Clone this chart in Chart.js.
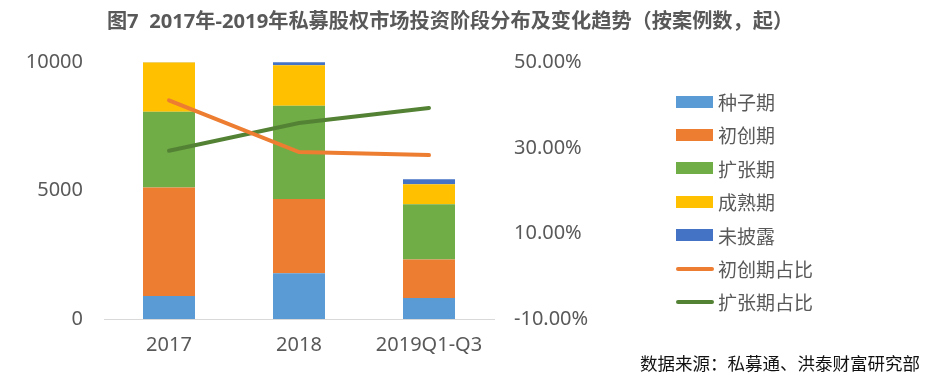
<!DOCTYPE html>
<html>
<head>
<meta charset="utf-8">
<script src="https://cdn.jsdelivr.net/npm/chart.js@4"></script>
<style>
    html, body { margin: 0; padding: 0; background: #fff; }
    #wrap { position: relative; width: 938px; height: 381px; }
    #grafica { display: block; }
    #fuente {
        position: absolute; left: 640px; top: 350px;
        font: 17.5px 'Noto Sans CJK SC', sans-serif; color: #111; white-space: nowrap;
    }
    #leyenda {
        position: absolute; left: 676px; top: 85px; margin: 0; padding: 0; list-style: none;
        font: 19px 'Noto Sans CJK SC', sans-serif; color: #595959;
    }
    #leyenda li { height: 33.4px; line-height: 33.4px; display: flex; align-items: center; white-space: nowrap; }
    #leyenda .caja { display: inline-block; width: 37px; height: 12px; margin-right: 5px; }
    #leyenda .linea { display: inline-block; width: 38px; height: 4px; border-radius: 2px; margin: 0 4px 0 0; }
</style>
</head>
<body>
<div id="wrap">
    <canvas id="grafica" width="938" height="381"></canvas>
    <ul id="leyenda"></ul>
    <div id="fuente">数据来源：私募通、洪泰财富研究部</div>
</div>
<script>
// Datos (número de casos)
const categorias = ['2017', '2018', '2019Q1-Q3'];
const semilla = [900, 1785, 820];        // 种子期
const inicial = [4220, 2890, 1495];      // 初创期
const expansion = [2955, 3635, 2150];    // 扩张期
const madurez = [1925, 1575, 780];       // 成熟期
const sinRevelar = [30, 145, 195];       // 未披露
// Proporciones (%)
const pctInicial = [41.1, 29.0, 28.3];   // 初创期占比
const pctExpansion = [29.3, 35.8, 39.3]; // 扩张期占比

const FUENTE = "'Noto Sans', 'Noto Sans CJK SC', sans-serif";
const GRIS = '#595959';

const barra = (label, data, color) => ({
    type: 'bar', label, data, backgroundColor: color, borderWidth: 0,
    yAxisID: 'y', order: 1, barPercentage: 0.4, categoryPercentage: 1
});
const linea = (label, data, color) => ({
    type: 'line', label, data, borderColor: color, backgroundColor: color,
    borderWidth: 4, borderCapStyle: 'round', pointRadius: 0, tension: 0,
    yAxisID: 'y1', order: 0
});

const ctx = document.getElementById('grafica').getContext('2d');
const grafica = new Chart(ctx, {
    data: {
        labels: categorias,
        datasets: [
            barra('种子期', semilla, '#5B9BD5'),
            barra('初创期', inicial, '#ED7D31'),
            barra('扩张期', expansion, '#70AD47'),
            barra('成熟期', madurez, '#FFC000'),
            barra('未披露', sinRevelar, '#4472C4'),
            linea('初创期占比', pctInicial, '#ED7D31'),
            linea('扩张期占比', pctExpansion, '#548235')
        ]
    },
    options: {
        responsive: false,
        animation: false,
        devicePixelRatio: 1,
        layout: { padding: { left: 20, right: 58, top: 0, bottom: 10 } },
        plugins: {
            title: {
                display: true,
                text: '图7  2017年-2019年私募股权市场投资阶段分布及变化趋势（按案例数，起）',
                color: GRIS,
                font: { family: FUENTE, size: 20.2, weight: 'bold' },
                padding: { top: 10, bottom: 28 }
            },
            legend: { display: false },
            tooltip: { enabled: false }
        },
        scales: {
            x: {
                stacked: true,
                grid: { display: false, drawTicks: false },
                border: { display: true, color: '#D9D9D9', width: 1 },
                ticks: { color: GRIS, font: { family: FUENTE, size: 20 }, padding: 14 }
            },
            y: {
                stacked: true,
                position: 'left',
                min: 0, max: 10000,
                ticks: {
                    stepSize: 5000, color: GRIS, font: { family: FUENTE, size: 20 }, padding: 21,
                    callback: v => String(v)
                },
                grid: { display: false, drawTicks: false },
                border: { display: false },
                afterFit: s => { s.width = 84; }
            },
            y1: {
                position: 'right',
                min: -10, max: 50,
                ticks: {
                    stepSize: 20, color: GRIS, font: { family: FUENTE, size: 20 }, padding: 20,
                    callback: v => v.toFixed(2) + '%'
                },
                grid: { display: false, drawTicks: false },
                border: { display: false },
                afterFit: s => { s.width = 386; }
            }
        }
    }
});

// Leyenda en HTML a partir de los datasets
const ul = document.getElementById('leyenda');
grafica.data.datasets.forEach(ds => {
    const li = document.createElement('li');
    const marca = document.createElement('span');
    marca.className = ds.type === 'line' ? 'linea' : 'caja';
    marca.style.background = ds.type === 'line' ? ds.borderColor : ds.backgroundColor;
    li.appendChild(marca);
    li.appendChild(document.createTextNode(ds.label));
    ul.appendChild(li);
});
</script>
</body>
</html>
